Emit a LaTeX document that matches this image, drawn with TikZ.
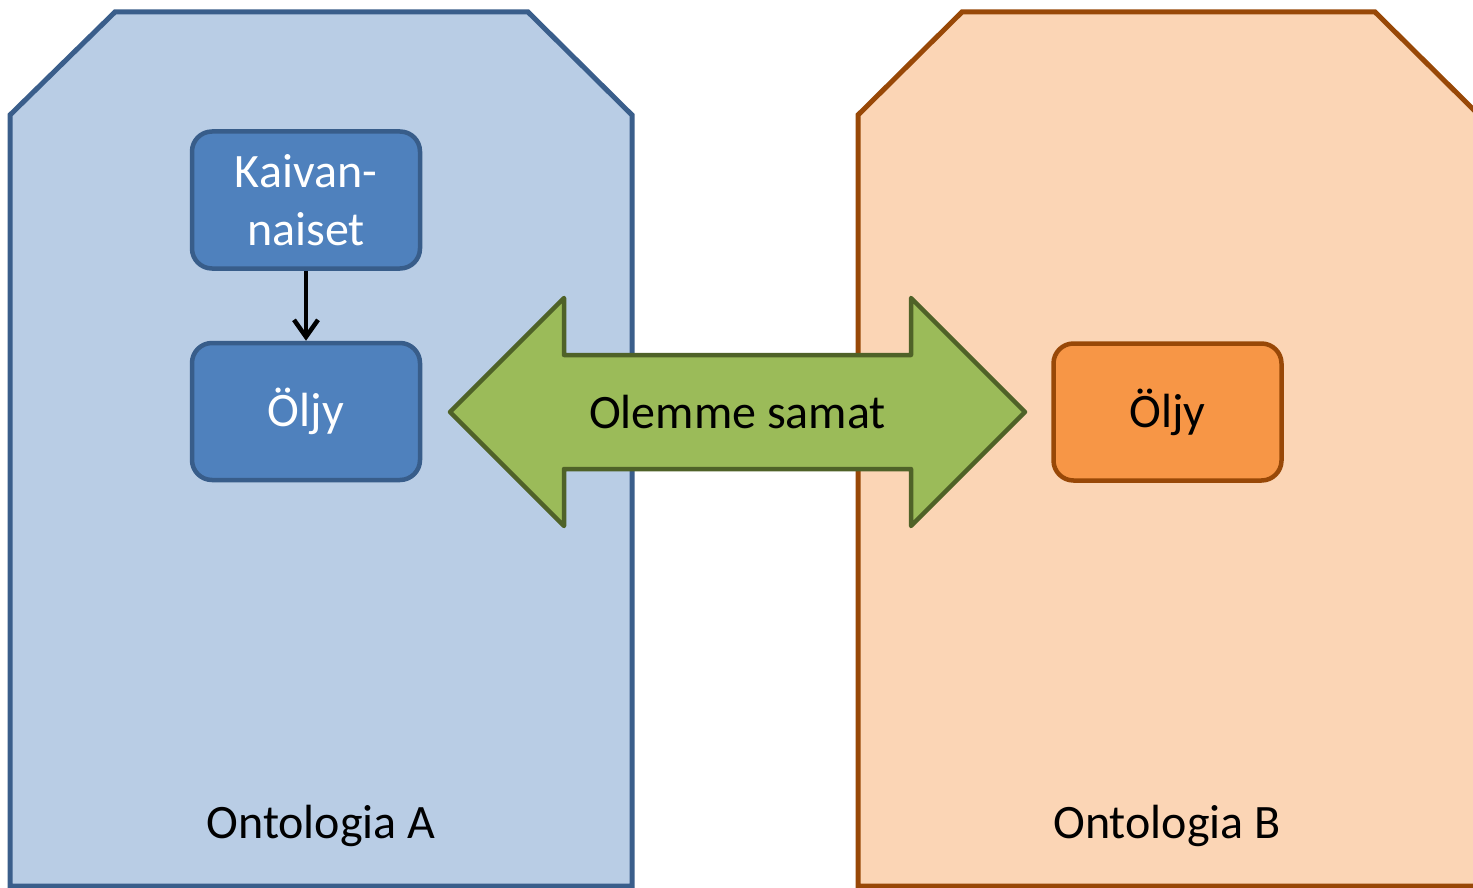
\documentclass[tikz,border=0pt]{standalone}
\usepackage{fontspec}
\setmainfont{Carlito}
\usetikzlibrary{arrows.meta}
\definecolor{panelAfill}{HTML}{B9CDE5}
\definecolor{panelAline}{HTML}{3A5E8B}
\definecolor{boxAfill}{HTML}{4F81BD}
\definecolor{boxAline}{HTML}{385D8A}
\definecolor{panelBfill}{HTML}{FBD5B5}
\definecolor{panelBline}{HTML}{984807}
\definecolor{boxBfill}{HTML}{F79646}
\definecolor{arrowfill}{HTML}{9BBB59}
\definecolor{arrowline}{HTML}{4F6228}
\tikzset{
  panel/.style={line width=5pt, line join=miter},
  conceptbox/.style={rectangle, rounded corners=20pt, line width=4.5pt,
    minimum width=228pt, minimum height=137pt, inner sep=0pt, align=center,
    font=\fontsize{48}{57.6}\selectfont},
  boxA/.style={conceptbox, fill=boxAfill, draw=boxAline, text=white},
  boxB/.style={conceptbox, fill=boxBfill, draw=panelBline, text=black},
  label/.style={font=\fontsize{48}{57.6}\selectfont, anchor=base, inner sep=0pt},
  link/.style={line width=4.5pt, -{Straight Barb[length=17pt,width=24pt,line width=4.5pt]}},
}
\begin{document}
\begin{tikzpicture}[x=1pt,y=-1pt]
\useasboundingbox (0,0) rectangle (1473,888);
% panels
\draw[panel, fill=panelAfill, draw=panelAline]
  (10,115) -- (115,12) -- (528,12) -- (632,115) -- (632,886) -- (10,886) -- cycle;
\draw[panel, fill=panelBfill, draw=panelBline]
  (858,115) -- (962,12) -- (1375,12) -- (1479,115) -- (1479,886) -- (858,886) -- cycle;
% double arrow
\draw[line width=4.5pt, line join=round, fill=arrowfill, draw=arrowline]
  (450,412) -- (564,298) -- (564,355) -- (911,355) -- (911,298) -- (1025,412)
  -- (911,526) -- (911,469) -- (564,469) -- (564,526) -- cycle;
\node[label, anchor=center] (same) at (737.5,412) {Olemme samat};
% boxes
\node[boxA] (kaiv) at (306,200) {Kaivan-\\naiset};
\node[boxA] (oljyA) at (306,411.5) {\raisebox{-2pt}{Öljy}};
\node[boxB] (oljyB) at (1167.5,412) {\raisebox{-2pt}{Öljy}};
\draw[link] (kaiv.south) -- (oljyA.north);
% labels
\node[label] (ontA) at (321,838) {Ontologia A};
\node[label] (ontB) at (1167,838) {Ontologia B};
\end{tikzpicture}
\end{document}
